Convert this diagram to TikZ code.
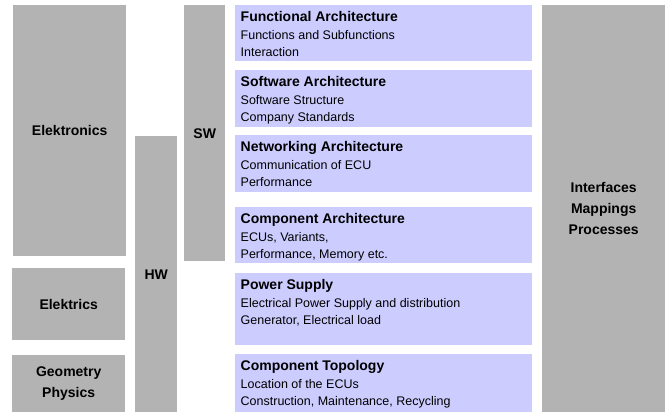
\documentclass[tikz,border=0pt]{standalone}
\usepackage{fontspec}
\setmainfont{Liberation Sans}
\definecolor{boxgray}{RGB}{179,179,179}
\definecolor{boxblue}{RGB}{204,204,255}
% text of an architecture box: height, title, lines
\newcommand{\archtext}[3]{\parbox[c][#1pt][t]{286pt}{\fontsize{12.5}{17.5}\selectfont\rule{0pt}{16.5pt}{\bfseries\fontsize{14}{17.5}\selectfont #2}\\#3}}

\begin{document}
\begin{tikzpicture}[x=1pt,y=-1pt,
		gray box/.style={fill=boxgray,anchor=north west,inner sep=0pt,align=center,font=\bfseries\fontsize{14}{21}\selectfont},
		blue box/.style={fill=boxblue,anchor=north west,inner xsep=5.5pt,inner ysep=0pt,minimum width=297}]
		\useasboundingbox (0,0) rectangle (665,415);

		% left columns
		\node[gray box,minimum width=113,minimum height=251] (elektronics) at (13,5) {Elektronics};
		\node[gray box,minimum width=113,minimum height=72] (elektrics) at (12,268) {Elektrics};
		\node[gray box,minimum width=113,minimum height=57] (geometry) at (12,355) {Geometry\\Physics};
		\node[gray box,minimum width=42,minimum height=276] (hw) at (135,136) {HW};
		\node[gray box,minimum width=41,minimum height=256] (sw) at (184,5) {SW};

		% architecture boxes
		\node[blue box] (functional) at (235,5) {\archtext{56}{Functional Architecture}{Functions and Subfunctions\\Interaction}};
		\node[blue box] (software) at (235,70) {\archtext{57}{Software Architecture}{Software Structure\\Company Standards}};
		\node[blue box] (networking) at (235,135) {\archtext{57}{Networking Architecture}{Communication of ECU\\Performance}};
		\node[blue box] (component) at (235,207) {\archtext{56}{Component Architecture}{ECUs, Variants,\\Performance, Memory etc.}};
		\node[blue box] (power) at (235,273) {\archtext{72}{Power Supply}{Electrical Power Supply and distribution\\Generator, Electrical load}};
		\node[blue box] (topology) at (235,354) {\archtext{58}{Component Topology}{Location of the ECUs\\Construction, Maintenance, Recycling}};

		% right column
		\node[gray box,minimum width=123,minimum height=407] (interfaces) at (542,5) {Interfaces\\Mappings\\Processes};
	\end{tikzpicture}
\end{document}
